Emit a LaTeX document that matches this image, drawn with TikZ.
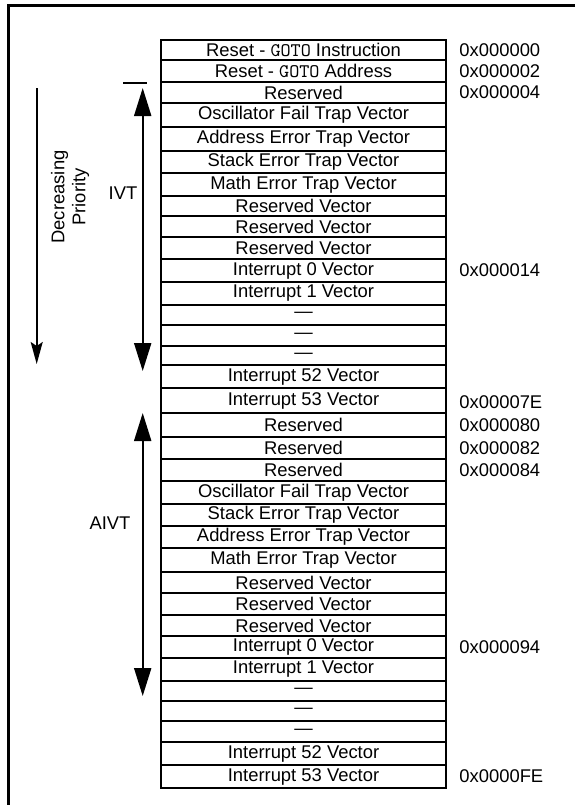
\documentclass[tikz,border=0pt]{standalone}
\usepackage{fontspec}
\setmainfont{Liberation Sans}
\usepackage{tikz}
\usetikzlibrary{positioning,arrows.meta}
\newcommand{\tabfont}{\fontsize{9.2pt}{10.5pt}\selectfont}
\newcommand{\gotoword}{{\fontsize{9.6pt}{10.5pt}\ttfamily GOTO}}

\begin{document}
\begin{tikzpicture}[
  x=0.5pt, y=-0.5pt,
  rowbox/.style={draw, line width=1pt, minimum width=142.5pt, inner sep=0pt},
  addr/.style={inner sep=0pt},
  span/.style={line width=1pt,
               {Triangle[length=14pt,width=8.5pt]}-{Triangle[length=14pt,width=8.5pt]}},
  prio/.style={line width=0.8pt, -{Stealth[length=11pt,width=6pt,inset=2pt]}},
  font=\tabfont
]
\useasboundingbox (0,0) rectangle (575,805);
% frame (cut at the right and bottom)
\draw[line width=1.5pt] (575,5) -| (8,805);

% vector table, one node per row
\foreach \t/\b/\txt [count=\i] in {
  40/60/{Reset - \gotoword{} Instruction}, 60/82/{Reset - \gotoword{} Address},
  82/103/Reserved, 103/127/Oscillator Fail Trap Vector,
  127/151/Address Error Trap Vector, 151/173/Stack Error Trap Vector,
  173/196/Math Error Trap Vector, 196/216/Reserved Vector,
  216/237/Reserved Vector, 237/259/Reserved Vector,
  259/282/Interrupt 0 Vector, 282/305/Interrupt 1 Vector,
  305/325/—, 325/346/—, 346/365/—,
  365/388/Interrupt 52 Vector, 388/413/Interrupt 53 Vector,
  413/437/Reserved, 437/459/Reserved, 459/481/Reserved,
  481/504/Oscillator Fail Trap Vector, 504/526/Stack Error Trap Vector,
  526/548/Address Error Trap Vector, 548/572/Math Error Trap Vector,
  572/593/Reserved Vector, 593/615/Reserved Vector, 615/636/Reserved Vector,
  636/658/Interrupt 0 Vector, 658/681/Interrupt 1 Vector,
  681/701/—, 701/721/—, 721/742/—,
  742/765/Interrupt 52 Vector, 765/788/Interrupt 53 Vector}{
  \node[rowbox, minimum height={(\b-\t)*0.5pt}] (row\i) at (303.5,{(\t+\b)/2}) {\txt};
}

% addresses
\node[addr, right=6pt of row1]  (adr000) {0x000000};
\node[addr, right=6pt of row2]  (adr002) {0x000002};
\node[addr, right=6pt of row3]  (adr004) {0x000004};
\node[addr, right=6pt of row11] (adr014) {0x000014};
\node[addr, right=6pt of row17, yshift=-1pt] (adr07E) {0x00007E};
\node[addr, right=6pt of row18] (adr080) {0x000080};
\node[addr, right=6pt of row19] (adr082) {0x000082};
\node[addr, right=6pt of row20] (adr084) {0x000084};
\node[addr, right=6pt of row28] (adr094) {0x000094};
\node[addr, right=6pt of row34] (adr0FE) {0x0000FE};

% priority arrow
\coordinate (prio-top) at (36.7,88);
\coordinate (prio-bot) at (36.7,364);
\draw[prio] (prio-top) -- (prio-bot);
\node[rotate=90, align=center] (prio) at (70,197) {Decreasing\\Priority};

% IVT span
\coordinate (ivt-l) at (123,82.7);
\coordinate (ivt-r) at (147,82.7);
\draw[line width=1pt] (ivt-l) -- (ivt-r);
\coordinate (ivt-top) at (142.7,88);
\coordinate (ivt-bot) at (142.7,371);
\draw[span] (ivt-top) -- (ivt-bot);
\node (ivt) at (123,193) {IVT};

% AIVT span
\coordinate (aivt-top) at (142.7,413);
\coordinate (aivt-bot) at (142.7,696);
\draw[span] (aivt-top) -- (aivt-bot);
\node (aivt) at (110,523) {AIVT};
\end{tikzpicture}
\end{document}
